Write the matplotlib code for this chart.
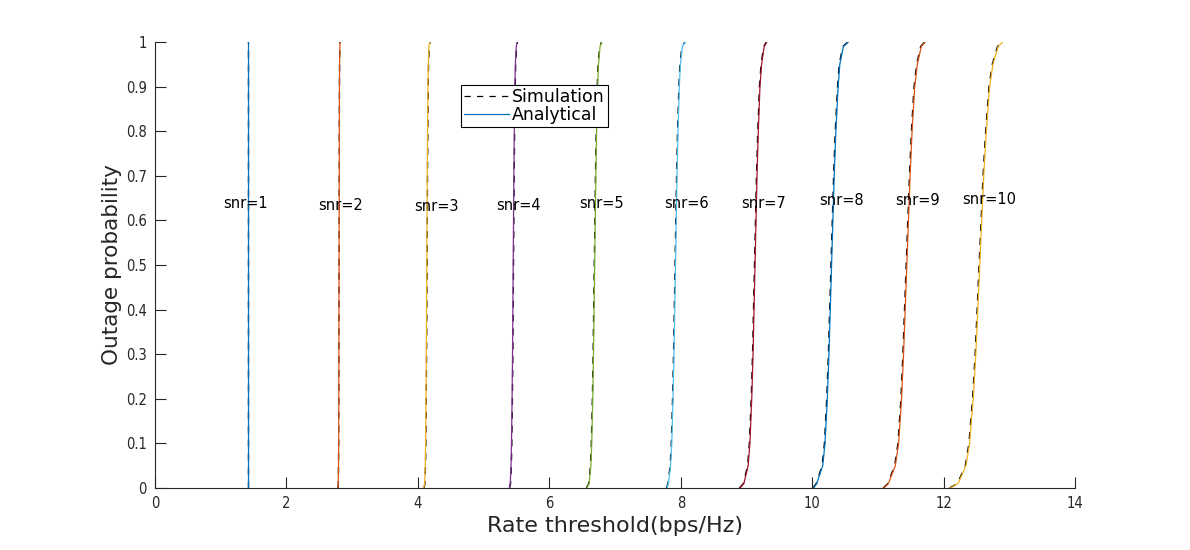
import matplotlib
matplotlib.use("Agg")
import matplotlib.pyplot as plt

# ---- data ----
snr_labels = ["snr=1", "snr=2", "snr=3", "snr=4", "snr=5",
              "snr=6", "snr=7", "snr=8", "snr=9", "snr=10"]

# outage probability levels at which the curves were read
prob_levels = [0.0, 0.01, 0.05, 0.1, 0.2, 0.3, 0.5, 0.7, 0.8, 0.9, 0.95, 0.99, 1.0]

# rate threshold (bps/Hz) at each probability level, analytical
rate_snr1 = [1.42] * 13
rate_snr2 = [2.785, 2.788, 2.792, 2.794, 2.796, 2.797, 2.800, 2.803, 2.804, 2.806, 2.808, 2.812, 2.815]
rate_snr3 = [4.090, 4.102, 4.112, 4.117, 4.123, 4.128, 4.135, 4.142, 4.147, 4.153, 4.158, 4.168, 4.180]
rate_snr4 = [5.390, 5.405, 5.417, 5.424, 5.433, 5.440, 5.450, 5.460, 5.467, 5.476, 5.483, 5.497, 5.510]
rate_snr5 = [6.570, 6.605, 6.632, 6.645, 6.661, 6.672, 6.690, 6.708, 6.719, 6.735, 6.748, 6.772, 6.800]
rate_snr6 = [7.790, 7.812, 7.845, 7.863, 7.882, 7.897, 7.920, 7.943, 7.958, 7.978, 7.994, 8.025, 8.070]
rate_snr7 = [8.900, 8.960, 9.025, 9.052, 9.080, 9.100, 9.130, 9.160, 9.180, 9.205, 9.230, 9.270, 9.310]
rate_snr8 = [10.020, 10.070, 10.160, 10.195, 10.230, 10.255, 10.295, 10.335, 10.360, 10.395, 10.420, 10.475, 10.550]
rate_snr9 = [11.090, 11.160, 11.265, 11.315, 11.360, 11.390, 11.440, 11.490, 11.520, 11.560, 11.600, 11.660, 11.720]
rate_snr10 = [12.100, 12.220, 12.340, 12.395, 12.450, 12.490, 12.550, 12.610, 12.650, 12.700, 12.750, 12.830, 12.900]

analytical = [rate_snr1, rate_snr2, rate_snr3, rate_snr4, rate_snr5,
              rate_snr6, rate_snr7, rate_snr8, rate_snr9, rate_snr10]

# simulated curves sit a hair to the left of the analytical ones
sim_offset = [0.0, 0.0, 0.004, 0.005, -0.006, -0.007, -0.008, -0.009, -0.010, -0.010]

# label positions (rate, probability)
label_x = [1.38, 2.83, 4.28, 5.53, 6.79, 8.09, 9.26, 10.45, 11.60, 12.70]
label_y = [0.639, 0.634, 0.632, 0.634, 0.637, 0.637, 0.637, 0.644, 0.644, 0.646]

x_ticks = [0, 2, 4, 6, 8, 10, 12, 14]
y_ticks = [0, 0.1, 0.2, 0.3, 0.4, 0.5, 0.6, 0.7, 0.8, 0.9, 1.0]
y_tick_labels = ["0", "0.1", "0.2", "0.3", "0.4", "0.5", "0.6", "0.7", "0.8", "0.9", "1"]

colors = ["#0072BD", "#D95319", "#EDB120", "#7E2F8E", "#77AC30",
          "#4DBEEE", "#A2142F", "#0072BD", "#D95319", "#EDB120"]

# ---- figure ----
fig = plt.figure(figsize=(11.9, 5.5), dpi=100)
ax = fig.add_axes([0.1303, 0.1127, 0.7731, 0.8109])

sim_handle = None
ana_handle = None
for ana, off in zip(analytical, sim_offset):
    sim = [v + off for v in ana]
    h, = ax.plot(sim, prob_levels, color="black", linestyle="--",
                 linewidth=1.0, dashes=(5, 5))
    if sim_handle is None:
        sim_handle = h
for i, ana in enumerate(analytical):
    h, = ax.plot(ana, prob_levels, color=colors[i], linewidth=0.9)
    if ana_handle is None:
        ana_handle = h

for lx, ly, t in zip(label_x, label_y, snr_labels):
    ax.text(lx, ly, t, ha="center", va="center", fontsize=10.5, color="black",
            family="DejaVu Sans")

ax.set_xlim(0, 14)
ax.set_ylim(0, 1)
ax.set_xticks(x_ticks)
ax.set_yticks(y_ticks)
ax.set_yticklabels(y_tick_labels)

for s in ["top", "right"]:
    ax.spines[s].set_visible(False)
for s in ["left", "bottom"]:
    ax.spines[s].set_color("#262626")
    ax.spines[s].set_linewidth(0.8)

ax.tick_params(direction="in", length=8, width=0.8, colors="#262626",
               labelsize=10.5, pad=6)
for lab in ax.get_xticklabels() + ax.get_yticklabels():
    lab.set_fontstretch("condensed")

ax.set_xlabel("Rate threshold(bps/Hz)", fontsize=16, color="#262626", labelpad=3)
ax.set_ylabel("Outage probability", fontsize=15.5, color="#262626", labelpad=3)

leg = ax.legend([sim_handle, ana_handle], ["Simulation", "Analytical"],
                loc="upper left", bbox_to_anchor=(0.3326, 0.9036),
                borderaxespad=0, fontsize=12.5, frameon=True, fancybox=False,
                framealpha=1, edgecolor="black", handlelength=2.6,
                handletextpad=0.2, borderpad=0.15, labelspacing=0.05)
leg.get_frame().set_linewidth(0.8)
for line in leg.get_lines():
    line.set_linewidth(0.9)

fig.savefig("out.png", dpi=100, facecolor="white")
